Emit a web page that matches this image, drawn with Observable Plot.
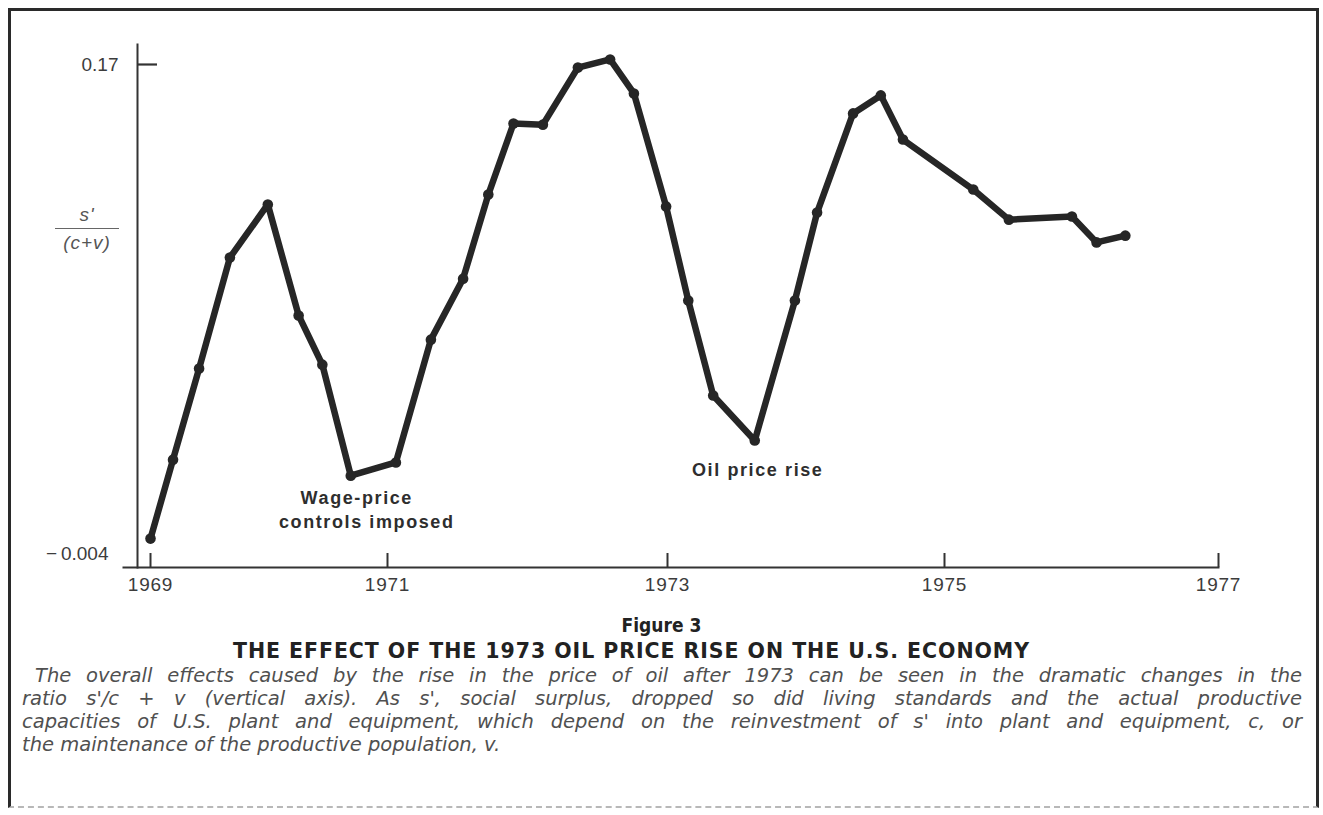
<!DOCTYPE html>
<html>
<head>
<meta charset="utf-8">
<script src="https://cdn.jsdelivr.net/npm/d3@7"></script>
<script src="https://cdn.jsdelivr.net/npm/@observablehq/plot@0.6"></script>
<style>
  html, body { margin: 0; padding: 0; background: #fff; }
  body { width: 1323px; height: 815px; position: relative; overflow: hidden; font-family: "Liberation Sans", Arial, sans-serif; }
  #frame { position: absolute; left: 8px; top: 8px; width: 1311px; height: 800px; box-sizing: border-box;
           border-left: 3px solid #2a2a2a; border-top: 3px solid #2a2a2a; border-right: 3px solid #2a2a2a; border-bottom: 2px dashed #b8b8b8; }
  #chart { position: absolute; left: 0; top: 0; }
  .frac { position: absolute; font-style: italic; color: #555; font-size: 19px; line-height: 22px; text-align: center; letter-spacing: 1px; }
  #num { left: 55px; width: 64px; top: 204px; }
  #bar { position: absolute; left: 55px; width: 64px; top: 228px; height: 0; border-top: 1.5px solid #666; }
  #den { left: 55px; width: 64px; top: 232px; }
  #fig { position: absolute; left: 0; width: 1323px; top: 614px; line-height: 22px; text-align: center; font-family: "DejaVu Sans Condensed", "DejaVu Sans", sans-serif; font-stretch: condensed; font-weight: 700; font-size: 19px; color: #222; }
  #ttl { position: absolute; top: 640px; line-height: 22px; font-family: "DejaVu Sans", sans-serif; font-weight: 700; font-size: 20.5px; color: #222; white-space: nowrap; }
  .cap { position: absolute; left: 22px; line-height: 23px; font-family: "DejaVu Sans", sans-serif; font-style: italic; font-size: 19px; color: #505050; white-space: nowrap; }
  .cap.just { width: 1280px; text-align: justify; text-align-last: justify; }
</style>
</head>
<body>
<div id="frame"></div>
<div id="chart"></div>
<div class="frac" id="num">s'</div>
<div id="bar"></div>
<div class="frac" id="den">(c+v)</div>
<div id="fig"></div>
<div id="ttl"></div>
<div id="caption"></div>
<script>
// ---- data ----
const years = [1969.00, 1969.19, 1969.41, 1969.67, 1969.99, 1970.25, 1970.45, 1970.69, 1971.06, 1971.31,
               1971.54, 1971.72, 1971.90, 1972.11, 1972.36, 1972.59, 1972.76, 1972.99, 1973.15, 1973.33,
               1973.63, 1973.92, 1974.08, 1974.34, 1974.54, 1974.70, 1975.21, 1975.47, 1975.93, 1976.11, 1976.32];
const ratio = [0.0013, 0.0294, 0.0618, 0.1013, 0.1202, 0.0807, 0.0632, 0.0237, 0.0284, 0.0721,
               0.0938, 0.1237, 0.1490, 0.1486, 0.1689, 0.1718, 0.1597, 0.1195, 0.0860, 0.0522,
               0.0362, 0.0860, 0.1173, 0.1526, 0.1590, 0.1433, 0.1255, 0.1148, 0.1159, 0.1067, 0.1091];
const xTicks = [1969, 1971, 1973, 1975, 1977];
const yTicks = [0.17, -0.004];
const yTickLabels = ["0.17", "\u2212\u20090.004"];
const noteLines = ["Wage-price", "controls imposed", "Oil price rise"];
const noteIndex = [7, 7, 20];
const figureLabel = "Figure 3";
const titleText = "THE EFFECT OF THE 1973 OIL PRICE RISE ON THE U.S. ECONOMY";
const captionLines = [
  "The overall effects caused by the rise in the price of oil after 1973 can be seen in the dramatic changes in the",
  "ratio s'/c + v (vertical axis). As s', social surplus, dropped so did living standards and the actual productive",
  "capacities of U.S. plant and equipment, which depend on the reinvestment of s' into plant and equipment, c, or",
  "the maintenance of the productive population, v."
];

// ---- build ----
const points = years.map((x, i) => ({x, y: ratio[i]}));
const ink = "#262626";
const W = 1323, H = 600, mL = 137, mR = 105, mT = 44, mB = 33;
const plotW = W - mL - mR, plotH = H - mT - mB;
const noteStyle = {x: "x", y: "y", fontSize: 18, fontWeight: "bold", fill: "#2e2e2e", textAnchor: "middle"};

const chart = Plot.plot({
  width: W, height: H,
  marginLeft: mL, marginRight: mR, marginTop: mT, marginBottom: mB,
  style: {fontFamily: '"Liberation Sans", Arial, sans-serif', background: "transparent"},
  x: {type: "linear", domain: xTicks, range: [150, 387, 667, 944, 1218]},
  y: {domain: [yTicks[1], yTicks[0]], range: [553, 64]},
  marks: [
    Plot.frame({anchor: "left", stroke: "#333", strokeWidth: 2}),
    Plot.frame({anchor: "bottom", insetLeft: -14, stroke: "#333", strokeWidth: 2}),
    Plot.ruleX(xTicks, {insetTop: plotH - 14, stroke: "#333", strokeWidth: 2}),
    Plot.ruleY([yTicks[0]], {insetRight: plotW - 20, stroke: "#333", strokeWidth: 2.2}),
    Plot.axisX({ticks: xTicks, tickSize: 0, tickPadding: 10, label: null, fontSize: 19, fill: "#3c3c3c", tickFormat: d => String(d)}),
    Plot.axisY({ticks: [yTicks[0]], tickSize: 0, tickPadding: 19, label: null, fontSize: 19, fill: "#3c3c3c", tickFormat: () => yTickLabels[0]}),
    Plot.axisY({ticks: [yTicks[1]], tickSize: 0, tickPadding: 29, label: null, fontSize: 19, fill: "#3c3c3c", tickFormat: () => yTickLabels[1]}),
    Plot.line(points, {x: "x", y: "y", stroke: ink, strokeWidth: 6.5, strokeLinejoin: "round", strokeLinecap: "round"}),
    Plot.dot(points, {x: "x", y: "y", r: 5.3, fill: ink, stroke: "none"}),
    Plot.text([points[noteIndex[0]]], {...noteStyle, text: () => noteLines[0], dx: 6, dy: 23}),
    Plot.text([points[noteIndex[1]]], {...noteStyle, text: () => noteLines[1], dx: 16, dy: 47}),
    Plot.text([points[noteIndex[2]]], {...noteStyle, text: () => noteLines[2], dx: 3, dy: 30})
  ]
});
document.getElementById("chart").appendChild(chart);
d3.select(chart).selectAll("g[aria-label='x-axis tick label'] text").style("letter-spacing", "0.8px");
d3.select(chart).selectAll("g[aria-label='text'] text").style("letter-spacing", "1.6px");

document.getElementById("fig").textContent = figureLabel;

function natural(el) { return el.getBoundingClientRect().width; }

// title: scale to the reference width (tracking only if still short)
const ttl = document.getElementById("ttl");
ttl.textContent = titleText;
{
  const target = 797;
  const w0 = natural(ttl);
  if (w0 > target) ttl.style.fontSize = (20.5 * target / w0) + "px";
  const rest = (target - natural(ttl)) / titleText.length;
  ttl.style.letterSpacing = Math.max(0, rest) + "px";
  ttl.style.left = "233px";
}

// caption: common size, then justify the full lines
const cap = document.getElementById("caption");
const rows = captionLines.map((t, i) => {
  const d = document.createElement("div");
  d.className = "cap";
  d.style.top = (664 + i * 23) + "px";
  d.textContent = t;
  cap.appendChild(d);
  return d;
});
const base = 19;
let fs = 40;
rows.slice(0, 3).forEach((d, i) => {
  const target = (i === 0 ? 1267 : 1280) * 0.985;
  fs = Math.min(fs, base * target / natural(d));
});
fs = Math.min(fs, 19.5);
rows.forEach((d, i) => {
  d.style.fontSize = fs + "px";
  if (i < 3) {
    d.className = "cap just";
    if (i === 0) d.style.textIndent = "13px";
  }
});
</script>
</body>
</html>
